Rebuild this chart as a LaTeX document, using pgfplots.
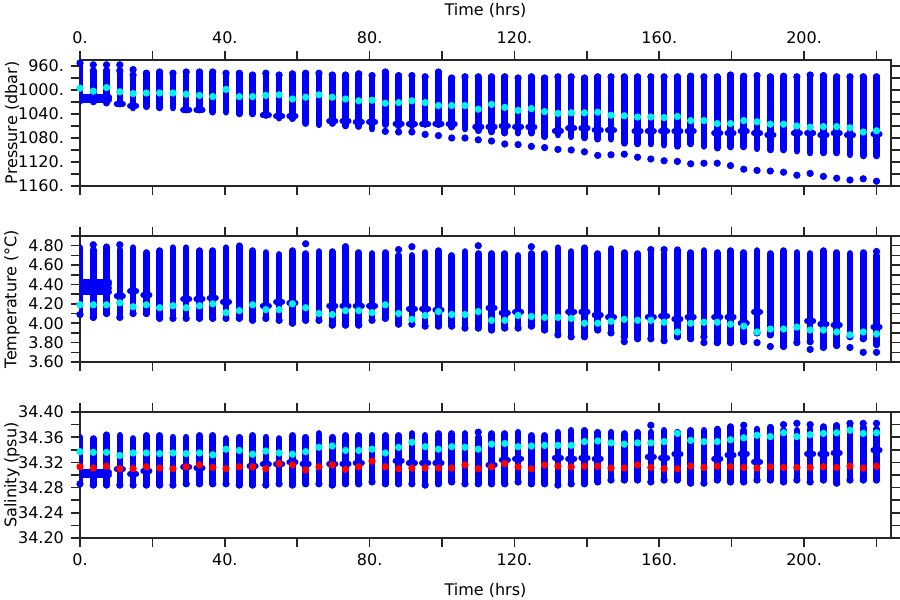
\documentclass[border=0pt]{standalone}
\usepackage{fontspec}
\setmainfont{DejaVu Sans}
\usepackage{pgfplots}
\usepackage{pgfplotstable}
\pgfplotsset{compat=1.18}
\definecolor{dotblue}{RGB}{0,0,250}
\definecolor{dotcyan}{RGB}{0,240,240}
\definecolor{dotred}{RGB}{255,0,0}

% Pressure: time, top of profile, bottom of profile, mean (cyan)
\pgfplotstableread{
t lo hi cy
0 955 1019 997
3.67 968 1020 1002
7.33 968 1022 996
11 968 1020 1003
14.67 975 1030 1006
18.33 972 1028 1005
22 970 1030 1005
25.67 972 1030 1005
29.33 970 1032 1007
33 970 1030 1009
36.67 970 1037 1011
40.33 972 1037 999
44 972 1040 1011
47.67 975 1040 1011
51.33 972 1042 1009
55 975 1047 1008
58.67 973 1048 1015
62.33 972 1056 1012
66 972 1058 1008
69.67 975 1056 1012
73.33 975 1060 1015
77 973 1061 1018
80.67 976 1065 1017
84.33 970 1058 1022
88 976 1060 1021
91.67 976 1060 1018
95.33 978 1056 1021
99 970 1058 1026
102.67 980 1062 1026
106.33 978 1065 1026
110 978 1068 1032
113.67 978 1070 1024
117.33 978 1072 1029
121 980 1072 1034
124.67 978 1072 1031
128.33 980 1078 1036
132 978 1075 1039
135.67 978 1078 1038
139.33 980 1080 1038
143 978 1082 1037
146.67 978 1082 1042
150.33 978 1089 1043
154 978 1090 1045
157.67 978 1090 1045
161.33 978 1092 1046
165 978 1094 1044
168.67 977 1090 1051
172.33 978 1094 1051
176 978 1097 1056
179.67 975 1095 1056
183.33 977 1095 1051
187 976 1098 1053
190.67 978 1100 1057
194.33 977 1100 1057
198 978 1102 1060
201.67 975 1105 1062
205.33 976 1105 1061
209 978 1105 1061
212.67 978 1108 1063
216.33 978 1110 1070
220 978 1110 1068
}\ptab

% Temperature
\pgfplotstableread{
t lo hi cy
0 4.09 4.78 4.19
3.67 4.06 4.76 4.19
7.33 4.10 4.79 4.19
11 4.06 4.76 4.21
14.67 4.10 4.78 4.17
18.33 4.10 4.73 4.19
22 4.05 4.75 4.16
25.67 4.05 4.78 4.18
29.33 4.05 4.78 4.16
33 4.05 4.75 4.18
36.67 4.05 4.75 4.20
40.33 4.05 4.78 4.11
44 4.05 4.80 4.13
47.67 4.03 4.75 4.19
51.33 4.05 4.73 4.14
55 4.03 4.71 4.14
58.67 4.00 4.75 4.20
62.33 4.03 4.72 4.16
66 4.03 4.74 4.10
69.67 3.98 4.74 4.09
73.33 3.98 4.77 4.13
77 3.98 4.73 4.13
80.67 4.03 4.72 4.11
84.33 4.05 4.73 4.19
88 3.99 4.70 4.10
91.67 3.99 4.70 4.04
95.33 3.97 4.73 4.08
99 3.97 4.75 4.12
102.67 3.97 4.70 4.09
106.33 3.95 4.74 4.09
110 3.95 4.72 4.12
113.67 3.93 4.72 4.03
117.33 3.95 4.72 4.03
121 3.95 4.70 4.08
124.67 3.97 4.72 4.07
128.33 3.93 4.72 4.06
132 3.88 4.78 4.06
135.67 3.86 4.74 4.05
139.33 3.86 4.78 4.00
143 3.93 4.72 4.00
146.67 3.90 4.77 4.02
150.33 3.86 4.73 4.04
154 3.84 4.72 4.03
157.67 3.84 4.74 4.03
161.33 3.82 4.72 4.01
165 3.86 4.76 3.91
168.67 3.84 4.73 4.00
172.33 3.86 4.75 4.01
176 3.80 4.73 4.01
179.67 3.80 4.75 3.99
183.33 3.81 4.73 3.97
187 3.90 4.75 3.91
190.67 3.88 4.72 3.94
194.33 3.76 4.75 3.94
198 3.80 4.73 3.96
201.67 3.81 4.72 3.93
205.33 3.75 4.75 3.93
209 3.77 4.73 3.91
212.67 3.86 4.72 3.88
216.33 3.84 4.73 3.91
220 3.78 4.70 3.89
}\ttab

% Salinity: mean (cyan) and median (red)
\pgfplotstableread{
t lo hi cy rd
0 34.286 34.360 34.337 34.313
3.67 34.284 34.358 34.336 34.311
7.33 34.284 34.364 34.336 34.314
11 34.284 34.363 34.331 34.310
14.67 34.284 34.358 34.335 34.310
18.33 34.284 34.363 34.335 34.313
22 34.284 34.363 34.334 34.311
25.67 34.284 34.360 34.335 34.310
29.33 34.286 34.360 34.334 34.313
33 34.286 34.363 34.335 34.316
36.67 34.286 34.363 34.332 34.312
40.33 34.286 34.358 34.341 34.310
44 34.284 34.360 34.339 34.313
47.67 34.284 34.363 34.333 34.313
51.33 34.284 34.360 34.338 34.310
55 34.286 34.358 34.335 34.318
58.67 34.284 34.363 34.333 34.316
62.33 34.286 34.360 34.337 34.308
66 34.286 34.366 34.344 34.313
69.67 34.284 34.360 34.346 34.316
73.33 34.286 34.363 34.339 34.309
77 34.286 34.363 34.339 34.313
80.67 34.289 34.363 34.341 34.322
84.33 34.286 34.363 34.335 34.313
88 34.286 34.363 34.344 34.310
91.67 34.286 34.366 34.352 34.311
95.33 34.284 34.363 34.345 34.311
99 34.286 34.366 34.341 34.311
102.67 34.289 34.366 34.345 34.311
106.33 34.286 34.366 34.344 34.316
110 34.286 34.360 34.341 34.310
113.67 34.286 34.366 34.349 34.313
117.33 34.286 34.366 34.350 34.318
121 34.289 34.368 34.345 34.313
124.67 34.286 34.363 34.346 34.310
128.33 34.286 34.363 34.347 34.316
132 34.284 34.368 34.347 34.314
135.67 34.286 34.371 34.347 34.313
139.33 34.286 34.371 34.353 34.314
143 34.289 34.368 34.354 34.314
146.67 34.292 34.368 34.351 34.311
150.33 34.292 34.366 34.349 34.311
154 34.292 34.368 34.351 34.316
157.67 34.289 34.368 34.351 34.312
161.33 34.292 34.371 34.353 34.310
165 34.292 34.368 34.366 34.310
168.67 34.287 34.371 34.355 34.314
172.33 34.287 34.371 34.353 34.312
176 34.292 34.373 34.353 34.314
179.67 34.289 34.377 34.356 34.313
183.33 34.289 34.371 34.359 34.312
187 34.292 34.373 34.363 34.311
190.67 34.292 34.376 34.361 34.313
194.33 34.289 34.371 34.367 34.312
198 34.292 34.371 34.361 34.312
201.67 34.289 34.373 34.364 34.312
205.33 34.292 34.377 34.366 34.313
209 34.287 34.379 34.367 34.312
212.67 34.292 34.379 34.371 34.314
216.33 34.292 34.376 34.366 34.311
220 34.292 34.373 34.367 34.314
}\stab

\begin{document}
\begin{tikzpicture}
\useasboundingbox (-40pt,30pt) rectangle (410pt,-270pt);
\pgfplotsset{
  panel/.style={
    scale only axis, width=405.5pt, height=63pt,
    xmin=0, xmax=224,
    xtick={0,40,80,120,160,200}, minor xtick={20,60,100,140,180,220},
    xticklabels={0.,40.,80.,120.,160.,200.},
    tick align=outside,
    major tick length=4.5pt, minor tick length=4.5pt,
    axis line style={line width=0.9pt, black!85},
    every tick/.style={line width=0.8pt, black!85},
    tick label style={font=\fontsize{8}{9}\selectfont},
    label style={font=\fontsize{8}{9}\selectfont},
    ylabel style={at={(axis description cs:-0.0838,0.5)}, anchor=center},
    xlabel style={yshift=-1.5pt},
  },
  bars/.style={only marks, mark=*, mark size=1.6pt, color=dotblue,
    mark options={draw=dotblue, fill=dotblue}, forget plot,
    error bars/.cd, y dir=plus, y explicit, error mark=none,
    error bar style={draw=dotblue, line width=3.3pt, line cap=round}},
  xbars/.style={only marks, mark=*, mark size=1.6pt, color=dotblue,
    mark options={draw=dotblue, fill=dotblue}, forget plot,
    error bars/.cd, x dir=both, x fixed=#1, error mark=none,
    error bar style={draw=dotblue, line width=3.0pt, line cap=round}},
  xbars/.default=0.85,
  dots/.style={only marks, mark=*, mark size=1.6pt, color=#1,
    mark options={draw=#1, fill=#1}, forget plot},
}

% ---------------- Pressure ----------------
\begin{axis}[panel, at={(0,0)}, anchor=north west,
  xticklabel pos=upper, xlabel={Time (hrs)}, xlabel style={yshift=1.5pt},
  y dir=reverse, ymin=950, ymax=1160,
  ytick={960,1000,1040,1080,1120,1160},
  minor ytick={980,1020,1060,1100,1140},
  yticklabels={960.,1000.,1040.,1080.,1120.,1160.},
  ylabel={Pressure (dbar)}]
\addplot[bars] table[x=t, y=lo, y error plus expr=\thisrow{hi}-\thisrow{lo}] {\ptab};
\addplot[xbars=4] coordinates {(4,1011) (4,1014) (4,1017)};
\addplot[xbars] coordinates {
(11,1023) (14.67,1026) (29.33,1033) (33,1033) (51.33,1042) (55,1044) (58.67,1044)
(69.67,1052) (73.33,1052) (77,1053) (80.67,1053) (88,1056) (91.67,1057) (95.33,1057)
(99,1056) (102.67,1057) (110,1061) (113.67,1061) (117.33,1060) (121,1061) (124.67,1062)
(132,1068) (135.67,1064) (139.33,1064) (143,1067) (146.67,1067) (154,1069) (157.67,1069)
(161.33,1069) (165,1069) (168.67,1069) (176,1072) (179.67,1072) (183.33,1069) (187,1072)
(190.67,1075) (198,1072) (201.67,1072) (205.33,1075) (209,1072) (212.67,1075) (220,1074)};
\addplot[dots=dotblue] coordinates {(3.67,958) (7.33,958) (11,958) (14.67,966)};
\addplot[dots=dotblue] coordinates {
(84.33,1069) (88,1070) (91.67,1070) (95.33,1074) (99,1076) (102.67,1080) (106.33,1080)
(110,1083) (113.67,1085) (117.33,1090) (121,1091) (124.67,1094) (128.33,1096) (132,1099)
(135.67,1100) (139.33,1103) (143,1109) (146.67,1108) (150.33,1107) (154,1112) (157.67,1115)
(161.33,1118) (165,1119) (168.67,1123) (172.33,1122) (176,1122) (179.67,1126) (183.33,1132)
(187,1134) (190.67,1135) (194.33,1137) (198,1142) (201.67,1139) (205.33,1144) (209,1147)
(212.67,1150) (216.33,1148) (220,1152)};
\addplot[dots=dotcyan] table[x=t, y=cy] {\ptab};
\end{axis}

% ---------------- Temperature ----------------
\begin{axis}[panel, at={(0,-88pt)}, anchor=north west,
  xticklabels={},
  ymin=3.6, ymax=4.9,
  ytick={3.6,3.8,4.0,4.2,4.4,4.6,4.8},
  minor ytick={3.7,3.9,4.1,4.3,4.5,4.7,4.9},
  yticklabels={3.60,3.80,4.00,4.20,4.40,4.60,4.80},
  ylabel={Temperature (°C)}]
\addplot[bars] table[x=t, y=lo, y error plus expr=\thisrow{hi}-\thisrow{lo}] {\ttab};
\addplot[xbars=4] coordinates {(4,4.32) (4,4.36) (4,4.40) (4,4.43)};
\addplot[xbars] coordinates {
(11,4.28) (14.67,4.33) (18.33,4.29) (29.33,4.25) (33,4.25) (36.67,4.26) (40.33,4.22)
(51.33,4.18) (55,4.22) (58.67,4.21) (69.67,4.18) (73.33,4.18) (77,4.18) (80.67,4.18)
(91.67,4.15) (95.33,4.15) (99,4.14) (113.67,4.16) (117.33,4.11) (121,4.12)
(135.67,4.12) (139.33,4.12) (143,4.08) (146.67,4.06) (157.67,4.06) (161.33,4.07)
(165,4.04) (168.67,4.06) (176,4.06) (179.67,4.06) (183.33,4.00) (187,4.12)
(201.67,4.02) (205.33,3.99) (209,3.98) (220,3.96)};
\addplot[dots=dotblue] coordinates {(3.67,4.81) (11,4.81) (62.33,4.82) (73.33,4.79) (88,4.76)
(91.67,4.79) (110,4.80) (124.67,4.79) (157.67,4.76) (161.33,4.76) (220,4.74)};
\addplot[dots=dotblue] coordinates {(150.33,3.81) (172.33,3.80) (187,3.80) (190.67,3.76)
(201.67,3.73) (212.67,3.75) (216.33,3.70) (220,3.70)};
\addplot[dots=dotcyan] table[x=t, y=cy] {\ttab};
\end{axis}

% ---------------- Salinity ----------------
\begin{axis}[panel, at={(0,-176pt)}, anchor=north west,
  xlabel={Time (hrs)},
  ymin=34.2, ymax=34.4,
  ytick={34.20,34.24,34.28,34.32,34.36,34.40},
  minor ytick={34.22,34.26,34.30,34.34,34.38},
  yticklabels={34.20,34.24,34.28,34.32,34.36,34.40},
  ylabel={Salinity (psu)}]
\addplot[bars] table[x=t, y=lo, y error plus expr=\thisrow{hi}-\thisrow{lo}] {\stab};
\addplot[xbars=4] coordinates {(4,34.300) (4,34.304)};
\addplot[xbars] coordinates {
(11,34.309) (14.67,34.302) (18.33,34.306) (29.33,34.313) (33,34.311) (47.67,34.314)
(51.33,34.317) (55,34.317) (58.67,34.320) (62.33,34.318) (69.67,34.317) (73.33,34.318)
(77,34.319) (88,34.323) (91.67,34.319) (95.33,34.319) (99,34.319) (113.67,34.316)
(117.33,34.324) (121,34.326) (132,34.327) (135.67,34.326) (139.33,34.327) (143,34.326)
(157.67,34.329) (161.33,34.327) (165,34.333) (176,34.326) (179.67,34.331) (183.33,34.334)
(187,34.321) (201.67,34.334) (205.33,34.333) (209,34.335) (220,34.339)};
\addplot[dots=dotblue] coordinates {(110,34.368) (157.67,34.379) (183.33,34.379) (194.33,34.380)
(198,34.382) (201.67,34.380) (212.67,34.382) (216.33,34.382) (220,34.382)};
\addplot[dots=dotcyan] table[x=t, y=cy] {\stab};
\addplot[dots=dotred] table[x=t, y=rd] {\stab};
\end{axis}
\end{tikzpicture}
\end{document}
